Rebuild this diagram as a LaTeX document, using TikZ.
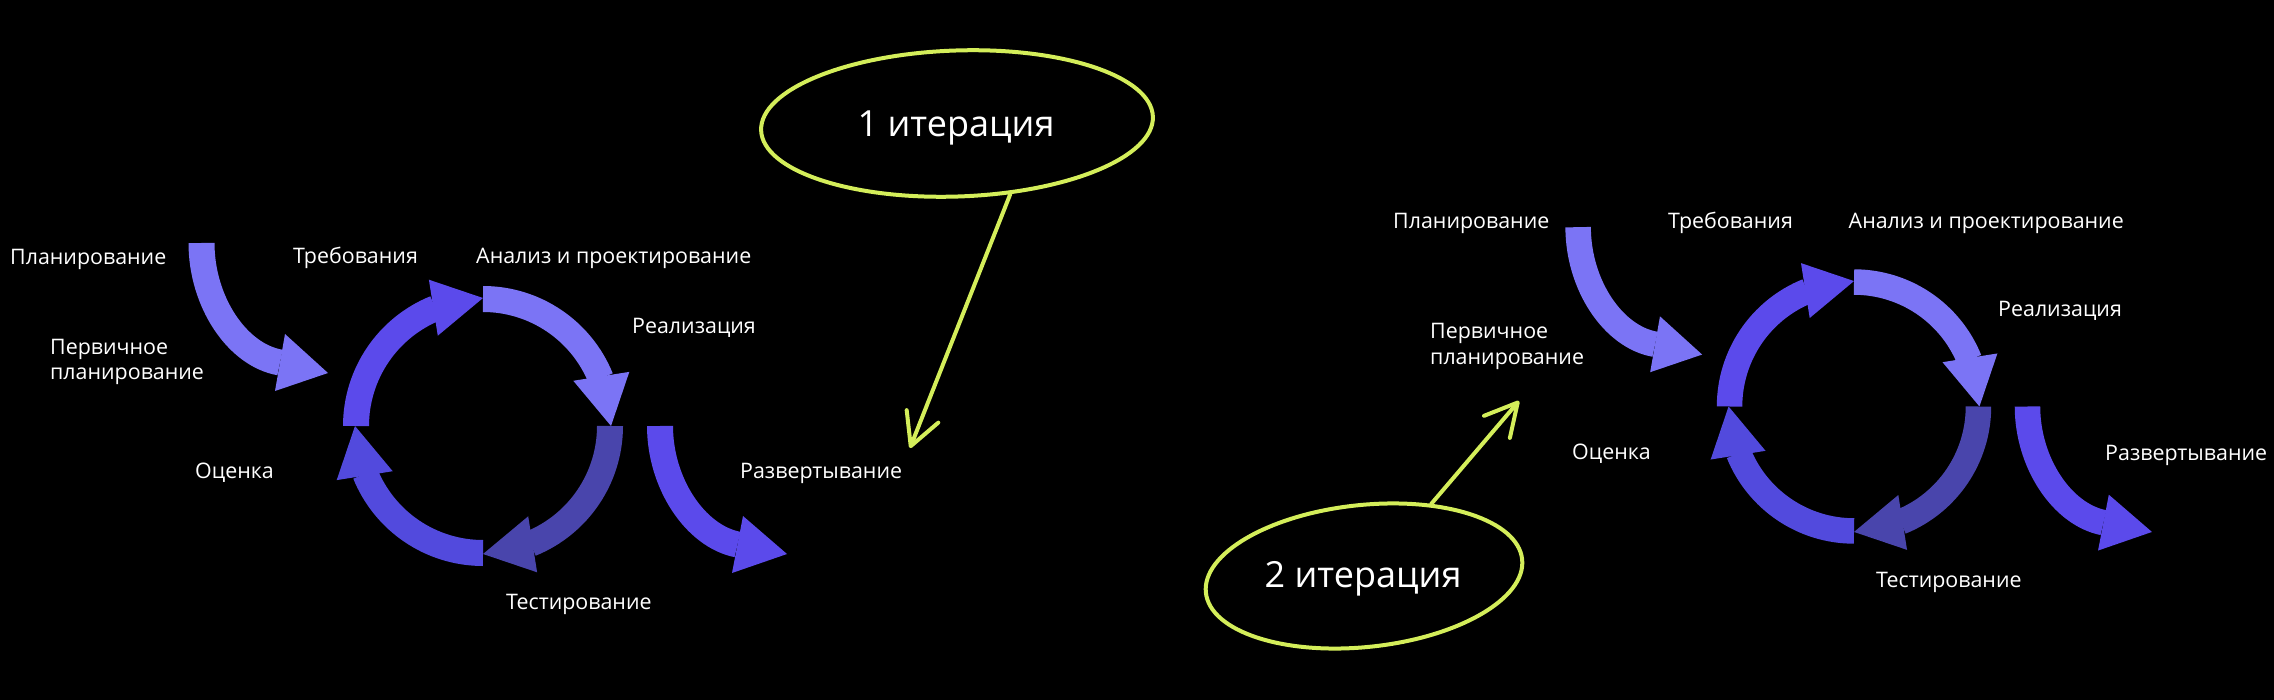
\documentclass[tikz,border=0pt]{standalone}
\usepackage{fontspec}
\setmainfont{Open Sans}
\usetikzlibrary{shapes.geometric,arrows.meta}
\definecolor{lightv}{RGB}{123,116,245}
\definecolor{vivid}{RGB}{91,74,235}
\definecolor{darkv}{RGB}{73,69,172}
\definecolor{midv}{RGB}{82,74,221}
\definecolor{lime}{RGB}{212,238,90}
\newcommand\cyclearrows[1]{%
 \begin{scope}[yscale=-1]
 \draw[vivid, line width=#1] (180:127) arc[start angle=180,end angle=112,radius=127];
 \fill[vivid] (110.3:156) -- (90:128) -- (116.6:101) -- cycle;
 \draw[lightv, line width=#1] (90:127) arc[start angle=90,end angle=22,radius=127];
 \fill[lightv] (20.3:156) -- (0:128) -- (26.6:101) -- cycle;
 \draw[darkv, line width=#1] (0:127) arc[start angle=0,end angle=-68,radius=127];
 \fill[darkv] (-69.7:156) -- (-90:128) -- (-63.4:101) -- cycle;
 \draw[midv, line width=#1] (-90:127) arc[start angle=-90,end angle=-158,radius=127];
 \fill[midv] (-159.7:156) -- (-180:128) -- (-153.4:101) -- cycle;
 \end{scope}
 \draw[lightv, line width=#1] (-281.5,-183) .. controls (-281.5,-124.4) and (-246,-71) .. (-203,-63.5);
 \fill[lightv] (-198,-92) -- (-155,-53) -- (-208,-35) -- cycle;
 \draw[vivid, line width=#1] (177,0) .. controls (177,57) and (212,110) .. (254.5,118.5);
 \fill[vivid] (260,90) -- (304,128) -- (249,147) -- cycle;
}
\begin{document}
\begin{tikzpicture}[x=1pt,y=-1pt,
  lbl/.style={text=white, font=\fontsize{21.4}{25}\selectfont, anchor=base west, inner sep=0pt},
  iter/.style={text=white, font=\fontsize{36}{40}\selectfont, anchor=base, inner sep=0pt},
  loop/.style={ellipse, draw=lime, line width=4pt, inner sep=0pt},
  pointer/.style={lime, line width=4pt, line cap=round, line join=round,
     -{Straight Barb[length=32pt,width=34pt,line cap=round,line join=round]}}]
\fill[black] (0,0) rectangle (2274,700);
\useasboundingbox (0,0) rectangle (2274,700);

% left cycle
\begin{scope}[shift={(483,426)}]
 \cyclearrows{26pt}
\end{scope}
\node[lbl] (Lplan) at (10,265) {Планирование};
\node[lbl] (Lperv1) at (50,355) {Первичное};
\node[lbl] (Lperv2) at (50,379) {планирование};
\node[lbl] (Ltreb) at (293,264) {Требования};
\node[lbl] (Lanal) at (476,264) {Анализ и проектирование};
\node[lbl] (Lreal) at (632,334) {Реализация};
\node[lbl] (Locen) at (195,478) {Оценка};
\node[lbl] (Lrazv) at (740,478) {Развертывание};
\node[lbl] (Ltest) at (506,609) {Тестирование};

% right cycle
\begin{scope}[shift={(1854,406.5)}, scale=0.98]
 \cyclearrows{25.5pt}
\end{scope}
\node[lbl] (Rplan) at (1393,229) {Планирование};
\node[lbl] (Rperv1) at (1430,338) {Первичное};
\node[lbl] (Rperv2) at (1430,364) {планирование};
\node[lbl] (Rtreb) at (1668,229) {Требования};
\node[lbl] (Ranal) at (1848.5,229) {Анализ и проектирование};
\node[lbl] (Rreal) at (1998,317) {Реализация};
\node[lbl] (Rocen) at (1572,459) {Оценка};
\node[lbl] (Rrazv) at (2105,460) {Развертывание};
\node[lbl] (Rtest) at (1876,587) {Тестирование};

% iteration callouts
\node[loop, minimum width=392pt, minimum height=146pt, rotate=2] (e1) at (957,123.5) {};
\node[iter] (t1) at (956,137) {1 итерация};
\coordinate (tip1) at (910,448);
\draw[pointer] (e1.-55) -- (tip1);

\node[loop, minimum width=318pt, minimum height=142pt, rotate=6] (e2) at (1364,576) {};
\node[iter] (t2) at (1363,587) {2 итерация};
\coordinate (tip2) at (1519,401);
\draw[pointer] (e2.41) -- (tip2);
\end{tikzpicture}
\end{document}
